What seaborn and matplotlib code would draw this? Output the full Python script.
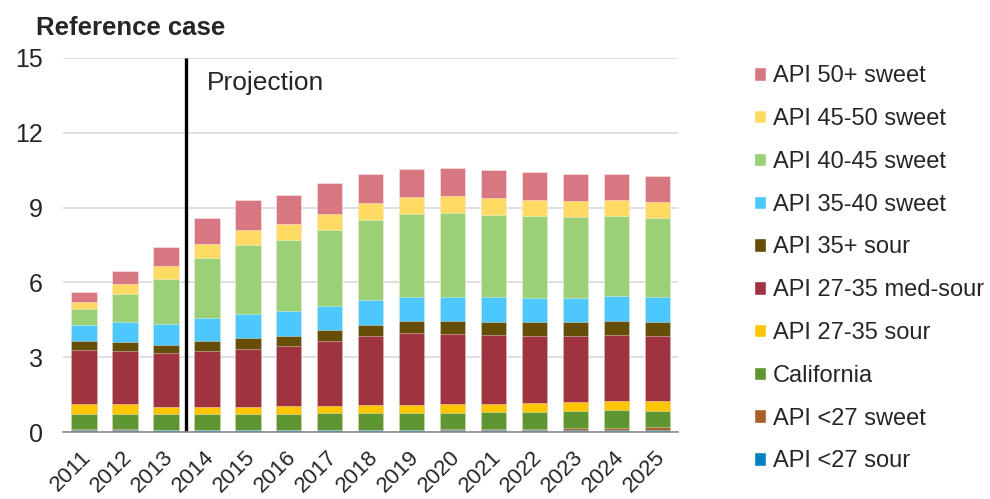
import numpy as np
import pandas as pd
import seaborn as sns
import matplotlib.pyplot as plt
import matplotlib.transforms as mtransforms
from matplotlib.patches import Patch

years = [str(y) for y in range(2011, 2026)]

# series values (million b/d), bottom to top of the stack
api27_sour = [0.10, 0.10, 0.08, 0.08, 0.08, 0.08, 0.08, 0.08, 0.08, 0.08, 0.08, 0.08, 0.08, 0.08, 0.08]
api27_sweet = [0.02, 0.02, 0.02, 0.02, 0.02, 0.02, 0.02, 0.02, 0.02, 0.03, 0.03, 0.03, 0.09, 0.09, 0.12]
california = [0.60, 0.60, 0.62, 0.62, 0.62, 0.62, 0.65, 0.66, 0.66, 0.65, 0.68, 0.68, 0.66, 0.70, 0.66]
api2735_sour = [0.41, 0.39, 0.28, 0.28, 0.28, 0.31, 0.29, 0.31, 0.31, 0.35, 0.33, 0.36, 0.36, 0.36, 0.38]
api2735_medsour = [2.16, 2.13, 2.16, 2.25, 2.34, 2.42, 2.60, 2.79, 2.89, 2.83, 2.78, 2.71, 2.67, 2.67, 2.62]
api35_sour = [0.36, 0.36, 0.35, 0.42, 0.42, 0.42, 0.44, 0.43, 0.48, 0.50, 0.53, 0.57, 0.54, 0.57, 0.54]
api3540_sweet = [0.64, 0.80, 0.81, 0.90, 0.97, 0.97, 0.96, 0.99, 0.99, 0.99, 0.97, 0.95, 0.99, 0.99, 1.00]
api4045_sweet = [0.63, 1.15, 1.83, 2.39, 2.79, 2.87, 3.06, 3.23, 3.32, 3.36, 3.32, 3.29, 3.25, 3.22, 3.20]
api4550_sweet = [0.31, 0.39, 0.49, 0.60, 0.60, 0.63, 0.66, 0.68, 0.68, 0.67, 0.68, 0.65, 0.64, 0.63, 0.63]
api50_sweet = [0.40, 0.53, 0.79, 1.04, 1.18, 1.18, 1.22, 1.16, 1.12, 1.13, 1.10, 1.09, 1.07, 1.04, 1.03]

series = [
    ("API <27 sour", api27_sour, "#0083C0"),
    ("API <27 sweet", api27_sweet, "#A86026"),
    ("California", california, "#5D9632"),
    ("API 27-35 sour", api2735_sour, "#FFC600"),
    ("API 27-35 med-sour", api2735_medsour, "#A03340"),
    ("API 35+ sour", api35_sour, "#664E06"),
    ("API 35-40 sweet", api3540_sweet, "#4CC8FF"),
    ("API 40-45 sweet", api4045_sweet, "#9BD076"),
    ("API 45-50 sweet", api4550_sweet, "#FFDB64"),
    ("API 50+ sweet", api50_sweet, "#D77781"),
]

sns.set_style("white")
plt.rcParams['font.family'] = ['Liberation Sans', 'DejaVu Sans']

fig = plt.figure(figsize=(9.9, 4.99), dpi=100)
ax = fig.add_axes([0.064, 0.134, 0.621, 0.750])

# stacked bars: draw cumulative totals from the top series down
tops = np.cumsum([s[1] for s in series], axis=0)
handles = []
for i in range(len(series) - 1, -1, -1):
    name, _, color = series[i]
    df = pd.DataFrame({"year": years, "value": tops[i]})
    sns.barplot(data=df, x="year", y="value", color=color, saturation=1,
                width=0.62, edgecolor=(1, 1, 1, 0.55), linewidth=0.5, ax=ax)
    handles.append(Patch(facecolor=color, label=name))

ax.set_ylim(0, 15)
ax.set_xlim(-0.5, len(years) - 0.5)
ax.set_yticks([0, 3, 6, 9, 12, 15])
ax.yaxis.grid(True, color="#D9D9D9", linewidth=1.2)
ax.set_axisbelow(True)
ax.set_xlabel("")
ax.set_ylabel("")
for s in ["top", "right", "left"]:
    ax.spines[s].set_visible(False)
ax.spines["bottom"].set_color("#8C8C8C")
ax.spines["bottom"].set_linewidth(1.2)

ax.tick_params(axis="y", length=0, labelsize=18, pad=15)
ax.tick_params(axis="x", which="major", length=0, labelsize=16, pad=16)
ax.set_xticks(np.arange(-0.5, len(years)), minor=True)
ax.tick_params(axis="x", which="minor", length=6, width=1.2, color="#8C8C8C", direction="out")
shift = mtransforms.ScaledTranslation(4 / 100, 0, fig.dpi_scale_trans)
for lab in ax.get_xticklabels():
    lab.set_rotation(45)
    lab.set_ha("right")
    lab.set_va("center")
    lab.set_rotation_mode("anchor")
    lab.set_transform(lab.get_transform() + shift)

# projection divider
ax.plot([2.5, 2.5], [0, 15], color="black", linewidth=2.4, solid_capstyle="butt")
ax.text(3.0, 14.0, "Projection", fontsize=19, va="center", ha="left")

fig.text(0.036, 0.944, "Reference case", fontsize=18.5, fontweight="bold", va="center", ha="left")

fig.legend(handles=handles, loc="upper left", bbox_to_anchor=(0.752, 0.888),
           frameon=False, fontsize=17, handlelength=0.5, handleheight=0.5,
           handletextpad=0.3, labelspacing=0.88, borderaxespad=0)

fig.savefig("out.png", dpi=100)
